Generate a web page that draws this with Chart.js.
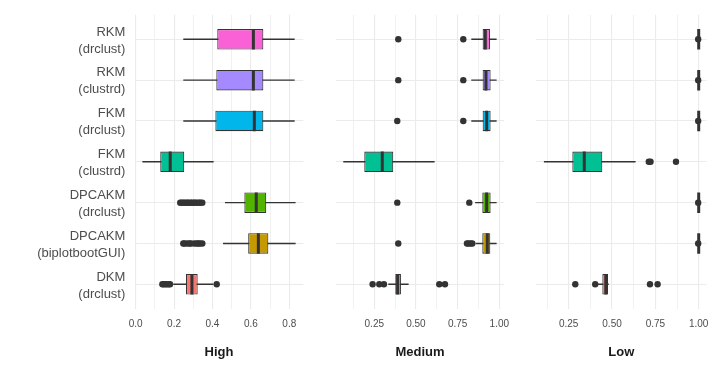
<!DOCTYPE html>
<html>
<head>
<meta charset="utf-8">
<script src="https://cdn.jsdelivr.net/npm/chart.js@4.4.1/dist/chart.umd.min.js"></script>
<style>
  html, body { margin: 0; padding: 0; background: #fff; }
  #wrap { position: relative; width: 721px; height: 379px; }
  #wrap canvas { position: absolute; left: 0; top: 0; }
</style>
</head>
<body>
<div id="wrap">
  <canvas id="high" width="721" height="379"></canvas>
  <canvas id="medium" width="721" height="379"></canvas>
  <canvas id="low" width="721" height="379"></canvas>
</div>
<script>
// Categories, top to bottom
const methods = [
    ['RKM', '(drclust)'],
    ['RKM', '(clustrd)'],
    ['FKM', '(drclust)'],
    ['FKM', '(clustrd)'],
    ['DPCAKM', '(drclust)'],
    ['DPCAKM', '(biplotbootGUI)'],
    ['DKM', '(drclust)']
];
const boxColors = ['#FB61D7', '#A58AFF', '#00B6EB', '#00C094', '#53B400', '#C49A00', '#F8766D'];

// High
const highWhiskerLow = [0.248, 0.248, 0.248, 0.035, 0.465, 0.455, 0.196];
const highQ1 = [0.425, 0.420, 0.415, 0.128, 0.566, 0.586, 0.262];
const highMedian = [0.613, 0.613, 0.618, 0.180, 0.628, 0.639, 0.293];
const highQ3 = [0.665, 0.665, 0.665, 0.253, 0.680, 0.691, 0.323];
const highWhiskerHigh = [0.828, 0.828, 0.828, 0.406, 0.833, 0.833, 0.404];
const highOutliers = [
    [], [], [], [],
    [0.232, 0.238, 0.247, 0.253, 0.262, 0.270, 0.275, 0.286, 0.291, 0.300, 0.308, 0.313, 0.324, 0.331, 0.338, 0.347],
    [0.248, 0.254, 0.268, 0.281, 0.287, 0.305, 0.318, 0.326, 0.335, 0.347],
    [0.139, 0.146, 0.155, 0.163, 0.172, 0.179, 0.422]
];
const highTicks = [0, 0.1, 0.2, 0.3, 0.4, 0.5, 0.6, 0.7, 0.8];
const highTickLabels = ['0.0', '', '0.2', '', '0.4', '', '0.6', '', '0.8'];

// Medium
const mediumWhiskerLow = [0.832, 0.832, 0.832, 0.064, 0.855, 0.858, 0.334];
const mediumQ1 = [0.900, 0.900, 0.900, 0.190, 0.898, 0.898, 0.376];
const mediumMedian = [0.916, 0.920, 0.924, 0.298, 0.924, 0.928, 0.390];
const mediumQ3 = [0.944, 0.948, 0.948, 0.364, 0.948, 0.946, 0.410];
const mediumWhiskerHigh = [0.984, 0.984, 0.984, 0.612, 0.984, 0.984, 0.456];
const mediumOutliers = [
    [0.394, 0.784],
    [0.394, 0.784],
    [0.388, 0.784],
    [],
    [0.388, 0.820],
    [0.394, 0.806, 0.815, 0.828, 0.838],
    [0.240, 0.280, 0.308, 0.640, 0.674]
];

// Low
const lowWhiskerLow = [1, 1, 1, 0.107, 1, 1, 0.415];
const lowQ1 = [1, 1, 1, 0.271, 1, 1, 0.444];
const lowMedian = [1, 1, 1, 0.340, 1, 1, 0.464];
const lowQ3 = [1, 1, 1, 0.444, 1, 1, 0.477];
const lowWhiskerHigh = [1, 1, 1, 0.636, 1, 1, 0.481];
const lowOutliers = [
    [0.997],
    [0.997],
    [0.997],
    [0.712, 0.722, 0.869],
    [0.997],
    [0.997],
    [0.288, 0.403, 0.719, 0.763]
];

const unitTicks = [0.125, 0.25, 0.375, 0.5, 0.625, 0.75, 0.875, 1];
const unitTickLabels = ['', '0.25', '', '0.50', '', '0.75', '', '1.00'];

const rows = methods.map((m, i) => i);
const fontFamily = '"Liberation Sans", Arial, Helvetica, sans-serif';
const gridColor = '#EBEBEB';
const inkColor = '#333333';
const PANEL_TOP = 14.8;
const PANEL_BOTTOM = 308.8;

const makePanel = (canvasId, p) => {
    const whiskers = rows.map(i => ({ x: [p.lo[i], p.hi[i]], y: i }));
    const boxes = rows.map(i => ({ x: [p.q1[i], p.q3[i]], y: i }));
    const medians = rows.map(i => ({ x: p.med[i], y: i }));
    const outliers = [];
    p.out.forEach((vals, i) => vals.forEach(v => outliers.push({ x: v, y: i })));

    return new Chart(document.getElementById(canvasId), {
        type: 'bar',
        data: {
            datasets: [
                {
                    type: 'scatter',
                    data: outliers,
                    pointStyle: 'circle',
                    pointRadius: 3.2,
                    pointBackgroundColor: inkColor,
                    pointBorderWidth: 0,
                    order: 0
                },
                {
                    type: 'scatter',
                    data: medians,
                    pointStyle: 'line',
                    pointRotation: 90,
                    pointRadius: 10.25,
                    pointBorderColor: inkColor,
                    pointBorderWidth: 3,
                    order: 1
                },
                {
                    type: 'bar',
                    indexAxis: 'y',
                    grouped: false,
                    data: boxes,
                    barThickness: 20.5,
                    backgroundColor: boxColors,
                    borderColor: inkColor,
                    borderWidth: 1.1,
                    borderSkipped: false,
                    inflateAmount: 0,
                    order: 2
                },
                {
                    type: 'bar',
                    indexAxis: 'y',
                    grouped: false,
                    data: whiskers,
                    barThickness: 1.4,
                    backgroundColor: inkColor,
                    borderWidth: 0,
                    inflateAmount: 0,
                    order: 3
                }
            ]
        },
        options: {
            responsive: false,
            animation: false,
            events: [],
            devicePixelRatio: 1,
            layout: {
                padding: { left: p.left, right: 721 - p.right, top: PANEL_TOP, bottom: 0 }
            },
            plugins: {
                legend: { display: false },
                tooltip: { enabled: false }
            },
            scales: {
                x: {
                    type: 'linear',
                    position: 'bottom',
                    min: p.xMin,
                    max: p.xMax,
                    offset: false,
                    afterBuildTicks: scale => { scale.ticks = p.ticks.map(v => ({ value: v })); },
                    afterFit: scale => { scale.height = 379 - PANEL_BOTTOM; },
                    grid: {
                        offset: false,
                        drawTicks: false,
                        color: gridColor,
                        lineWidth: ctx => p.tickLabels[ctx.index] ? 1.1 : 0.7
                    },
                    border: { display: false },
                    ticks: {
                        autoSkip: false,
                        maxRotation: 0,
                        padding: 9.5,
                        color: '#4D4D4D',
                        font: { family: fontFamily, size: 10 },
                        callback: (value, index) => p.tickLabels[index]
                    },
                    title: {
                        display: true,
                        text: p.title,
                        color: '#1A1A1A',
                        font: { family: fontFamily, size: 13, weight: 'bold' },
                        padding: { top: 0, bottom: 19.2 }
                    }
                },
                y: {
                    type: 'linear',
                    min: -0.6,
                    max: 6.6,
                    reverse: true,
                    offset: false,
                    afterBuildTicks: scale => { scale.ticks = rows.map(i => ({ value: i })); },
                    afterFit: scale => {
                        // rows sit well inside the panel, so labels need no extra room
                        scale.width = p.yWidth;
                        scale.paddingTop = 0;
                        scale.paddingBottom = 0;
                    },
                    grid: {
                        offset: false,
                        drawTicks: false,
                        color: gridColor,
                        lineWidth: 1.1
                    },
                    border: { display: false },
                    ticks: {
                        display: p.showLabels,
                        padding: 9.4,
                        labelOffset: 1.2,
                        color: '#4D4D4D',
                        font: { family: fontFamily, size: 13, lineHeight: 1.3 },
                        callback: value => methods[value]
                    }
                }
            }
        }
    });
};

makePanel('high', {
    lo: highWhiskerLow, q1: highQ1, med: highMedian, q3: highQ3, hi: highWhiskerHigh, out: highOutliers,
    ticks: highTicks, tickLabels: highTickLabels, xMin: -0.005, xMax: 0.873,
    left: 0, yWidth: 134.7, right: 303.3, showLabels: true, title: 'High'
});

makePanel('medium', {
    lo: mediumWhiskerLow, q1: mediumQ1, med: mediumMedian, q3: mediumQ3, hi: mediumWhiskerHigh, out: mediumOutliers,
    ticks: unitTicks, tickLabels: unitTickLabels, xMin: 0.018, xMax: 1.030,
    left: 335.6, yWidth: 0, right: 504.3, showLabels: false, title: 'Medium'
});

makePanel('low', {
    lo: lowWhiskerLow, q1: lowQ1, med: lowMedian, q3: lowQ3, hi: lowWhiskerHigh, out: lowOutliers,
    ticks: unitTicks, tickLabels: unitTickLabels, xMin: 0.062, xMax: 1.045,
    left: 536.1, yWidth: 0, right: 706.5, showLabels: false, title: 'Low'
});
</script>
</body>
</html>
